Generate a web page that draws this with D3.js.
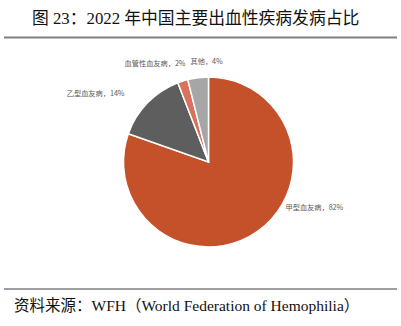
<!DOCTYPE html>
<html>
<head>
<meta charset="utf-8">
<script src="https://cdn.jsdelivr.net/npm/d3@7"></script>
<style>
  body { margin: 0; background: #fff; }
  svg text { font-family: "Liberation Serif", "Noto Sans CJK SC", serif; }
  svg text.label { font-family: "Noto Sans CJK SC", sans-serif; }
</style>
</head>
<body>
<div id="chart"></div>
<script>
// Chart data
const categories = ["甲型血友病", "乙型血友病", "血管性血友病", "其他"];
const values = [82, 14, 2, 4];
const colors = ["#C5512B", "#5E5E5E", "#D7735C", "#A6A6A6"];

const width = 401, height = 326;
const cx = 208.5, cy = 162, radius = 85;

const svg = d3.select("#chart")
    .append("svg")
    .attr("width", width)
    .attr("height", height);

// Title
svg.append("text")
    .attr("x", 32)
    .attr("y", 24)
    .attr("font-size", 16.8)
    .attr("fill", "#111")
    .text("图 23：2022 年中国主要出血性疾病发病占比");

// Rules
svg.append("line")
    .attr("x1", 4).attr("x2", 397)
    .attr("y1", 37.5).attr("y2", 37.5)
    .attr("stroke", "#7f7f7f").attr("stroke-width", 2);

svg.append("line")
    .attr("x1", 4).attr("x2", 397)
    .attr("y1", 289).attr("y2", 289)
    .attr("stroke", "#7f7f7f").attr("stroke-width", 1.5);

// Source
svg.append("text")
    .attr("x", 14)
    .attr("y", 311)
    .attr("font-size", 15.5)
    .attr("fill", "#111")
    .text("资料来源：WFH（World Federation of Hemophilia）");

// Pie
const data = categories.map((c, i) => ({ name: c, value: values[i], color: colors[i] }));

const pie = d3.pie()
    .value(d => d.value)
    .sort(null);

const arc = d3.arc()
    .innerRadius(0)
    .outerRadius(radius);

const g = svg.append("g")
    .attr("transform", `translate(${cx},${cy})`);

g.selectAll("path")
    .data(pie(data))
    .enter().append("path")
    .attr("d", arc)
    .attr("fill", d => d.data.color)
    .attr("stroke", "#fff")
    .attr("stroke-width", 1.5);

// Labels placed beside their slices
const labelPos = {
    "甲型血友病": { x: 77, y: 48, anchor: "start" },
    "乙型血友病": { x: -84, y: -66, anchor: "end" },
    "血管性血友病": { x: -23, y: -96, anchor: "end" },
    "其他": { x: -18, y: -98, anchor: "start" }
};

g.selectAll("text.label")
    .data(pie(data))
    .enter().append("text")
    .attr("class", "label")
    .attr("x", d => labelPos[d.data.name].x)
    .attr("y", d => labelPos[d.data.name].y)
    .attr("text-anchor", d => labelPos[d.data.name].anchor)
    .attr("font-size", 7.2)
    .attr("fill", "#595959")
    .text(d => `${d.data.name}，${d.data.value}%`);
</script>
</body>
</html>
